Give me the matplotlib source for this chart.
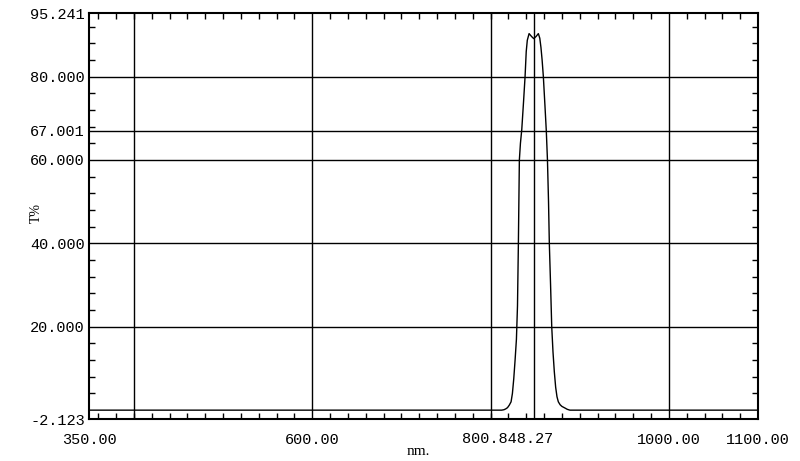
import matplotlib
matplotlib.use("Agg")
import matplotlib.pyplot as plt
import numpy as np

# transmission curve
wavelength = [350, 812.5, 815, 817, 819, 821, 823, 824.5, 826, 827.5, 829,
              830.2, 831.2, 832.3, 833.5, 835.0, 837.0, 838.7, 840.0, 841.2,
              843.2, 846.0, 848.4, 851.0, 853.6, 855.2, 856.5, 857.8, 859.2,
              861.0, 862.5, 863.8, 865.0, 865.9, 867.3, 868.6, 870.0, 871.5,
              873.0, 874.5, 876.0, 878.0, 880.0, 883.5, 886.0, 889.0, 1100]
transmittance = [0, 0, 0.1, 0.3, 0.6, 1.2, 2.0, 4.0, 7.5, 12.0, 17.0,
                 25.0, 40.0, 60.0, 64.0, 67.3, 74.0, 80.0, 86.0, 88.7,
                 90.3, 89.6, 89.1, 89.6, 90.3, 89.2, 87.0, 84.0, 80.0,
                 73.0, 67.0, 60.0, 50.0, 40.0, 30.0, 20.0, 14.0, 9.2,
                 5.5, 3.2, 2.0, 1.3, 0.9, 0.5, 0.2, 0, 0]

x_ticks = [350, 600, 1000, 1100]
x_labels = ["350.00", "600.00", "1000.00", "1100.00"]
x_grid = [400, 600, 800, 848.27, 1000]
y_ticks = [95.241, 80.0, 67.001, 60.0, 40.0, 20.0, -2.123]
y_labels = ["95.241", "80.000", "67.001", "60.000", "40.000", "20.000", "-2.123"]
y_grid = [80.0, 67.001, 60.0, 40.0, 20.0]

font = "Liberation Mono"

fig = plt.figure(figsize=(8, 4.61), dpi=100)
ax = fig.add_axes([0.1116, 0.0911, 0.836, 0.8807])

for xv in x_grid:
    ax.axvline(xv, color="black", lw=1.0, zorder=1)
for yv in y_grid:
    ax.axhline(yv, color="black", lw=1.0, zorder=1)

ax.plot(wavelength, transmittance, color="black", lw=1.0, zorder=2)

ax.set_xlim(350, 1100)
ax.set_ylim(-2.123, 95.241)

ax.set_xticks(x_ticks)
ax.set_xticklabels(x_labels, fontfamily=font, fontsize=11)
ax.set_yticks(y_ticks)
ax.set_yticklabels(y_labels, fontfamily=font, fontsize=11)
ax.set_xticks(np.arange(360, 1100, 20), minor=True)
ax.set_yticks(np.arange(4, 95, 4), minor=True)

ax.tick_params(which="major", length=0)
ax.tick_params(axis="x", which="major", pad=10)
ax.tick_params(axis="y", which="major", pad=3)
ax.tick_params(which="minor", direction="in", length=4, width=1,
               top=True, right=True, bottom=True, left=True)

# overlapping labels under the 800 and 848.27 lines
ax.annotate("800.848.27", xy=(800, 0), xycoords=ax.get_xaxis_transform(),
            xytext=(-29, -13), textcoords="offset pixels",
            ha="left", va="top", fontfamily=font, fontsize=11)

for sp in ax.spines.values():
    sp.set_linewidth(1.5)

fig.text(0.5225, 0.02, "nm.", fontfamily="Liberation Serif", fontsize=11,
         ha="center", va="center")
fig.text(0.045, 0.538, "T%", fontfamily="Liberation Serif", fontsize=10,
         rotation=90, ha="center", va="center")

fig.savefig("out.png", dpi=100)
